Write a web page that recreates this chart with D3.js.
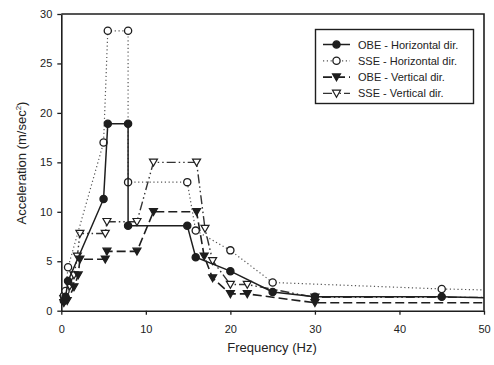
<!DOCTYPE html>
<html>
<head>
<meta charset="utf-8">
<script src="https://cdn.jsdelivr.net/npm/d3@7"></script>
<style>
  html, body { margin: 0; padding: 0; background: #fff; }
  svg { display: block; font-family: "Liberation Sans", Arial, sans-serif; }
</style>
</head>
<body>
<svg id="chart" width="494" height="365"></svg>
<script>
// Frequency (Hz) / acceleration (m/sec^2) pairs for each response spectrum
const obeHorizontal = [[0.3,1.0],[0.5,1.4],[0.8,3.0],[5,11.3],[5.5,18.9],[7.9,18.9],[7.9,8.6],[14.9,8.6],[15.9,5.4],[20,4.0],[25,1.9],[30,1.4],[45,1.4],[50,1.3]];
const sseHorizontal = [[0.3,1.5],[0.5,2.0],[0.8,4.4],[5,17.0],[5.5,28.3],[7.9,28.3],[7.9,13.0],[14.9,13.0],[15.9,8.1],[20,6.1],[25,2.85],[45,2.2],[50,2.1]];
const obeVertical = [[0.3,0.8],[0.7,1.0],[1.5,2.4],[2.0,3.6],[2.2,5.2],[5.2,5.2],[5.4,6.0],[8.95,6.0],[10.9,10.0],[16,10.0],[16.9,5.5],[17.9,3.3],[20,1.7],[22,1.7],[30,0.8],[50,0.8]];
const sseVertical = [[0.3,1.2],[1.0,2.5],[1.5,3.6],[1.9,5.5],[2.2,7.8],[5.2,7.8],[5.4,9.0],[8.95,9.0],[10.9,15.0],[16,15.0],[17,8.3],[17.9,5.05],[20,2.65],[22,2.65],[30,1.35],[50,1.35]];

const seriesNames = ["OBE - Horizontal dir.", "SSE - Horizontal dir.", "OBE - Vertical dir.", "SSE - Vertical dir."];
const xTicks = [0, 10, 20, 30, 40, 50];
const yTicks = [0, 5, 10, 15, 20, 25, 30];

const svg = d3.select("#chart");
const x = d3.scaleLinear().domain([0, 50]).range([61.3, 484]);
const y = d3.scaleLinear().domain([0, 30]).range([310.7, 14]);

const ink = "#1e1e1e";

// plot frame: top and right borders
svg.append("path")
  .attr("d", `M${x(0)},${y(30)}H${x(50)}V${y(0)}`)
  .attr("fill", "none").attr("stroke", ink).attr("stroke-width", 1.6);

const xAxis = svg.append("g")
  .attr("transform", `translate(0,${y(0)})`)
  .call(d3.axisBottom(x).tickValues(xTicks).tickSize(4).tickPadding(11).tickSizeOuter(0));
const yAxis = svg.append("g")
  .attr("transform", `translate(${x(0)},0)`)
  .call(d3.axisLeft(y).tickValues(yTicks).tickSize(4).tickPadding(5).tickSizeOuter(0));

[xAxis, yAxis].forEach(g => {
  g.select(".domain").attr("stroke", ink).attr("stroke-width", 1.6);
  g.selectAll(".tick line").attr("stroke", ink).attr("stroke-width", 1.3);
  g.selectAll(".tick text").attr("fill", "#222").style("font-size", "11px")
    .style("font-family", "'Liberation Sans', Arial, sans-serif");
});

// axis titles
svg.append("text")
  .attr("x", 272).attr("y", 352)
  .attr("text-anchor", "middle").attr("fill", "#222")
  .style("font-size", "13px")
  .text("Frequency (Hz)");

const yTitle = svg.append("text")
  .attr("transform", "translate(26,163) rotate(-90)")
  .attr("text-anchor", "middle").attr("fill", "#222")
  .style("font-size", "13px");
yTitle.append("tspan").text("Acceleration (m/sec");
yTitle.append("tspan").attr("dy", -5).style("font-size", "8px").text("2");
yTitle.append("tspan").attr("dy", 5).text(")");

const styles = [
  { data: obeHorizontal, dash: null, width: 1.5, stroke: ink, marker: "circle", fill: ink },
  { data: sseHorizontal, dash: "1.2,2.6", width: 1.2, stroke: "#555", marker: "circle", fill: "#fff" },
  { data: obeVertical, dash: "9,4", width: 1.6, stroke: ink, marker: "tri", fill: ink },
  { data: sseVertical, dash: "9,3,1.5,3,1.5,3", width: 1.4, stroke: "#333", marker: "tri", fill: "#fff" }
];

const line = d3.line().x(d => x(d[0])).y(d => y(d[1]));
const triPath = "M-4,-3.2L4,-3.2L0,3.8Z";

function drawMarker(g, s, cx, cy) {
  if (s.marker === "circle") {
    g.append("circle").attr("cx", cx).attr("cy", cy).attr("r", 3.6)
      .attr("fill", s.fill).attr("stroke", ink).attr("stroke-width", 1.3);
  } else {
    g.append("path").attr("d", triPath).attr("transform", `translate(${cx},${cy})`)
      .attr("fill", s.fill).attr("stroke", ink).attr("stroke-width", 1.2);
  }
}

// draw series, bottom layers first
[3, 2, 1, 0].forEach(i => {
  const s = styles[i];
  const g = svg.append("g");
  g.append("path").datum(s.data).attr("d", line)
    .attr("fill", "none").attr("stroke", s.stroke).attr("stroke-width", s.width)
    .attr("stroke-dasharray", s.dash);
  s.data.forEach(d => {
    if (d[0] === 50) return;
    drawMarker(g, s, x(d[0]), y(d[1]));
  });
});

// legend
const legend = svg.append("g");
legend.append("rect").attr("x", 315.5).attr("y", 29.5).attr("width", 158).attr("height", 74)
  .attr("fill", "#fff").attr("stroke", ink).attr("stroke-width", 1.4);
seriesNames.forEach((name, i) => {
  const s = styles[i];
  const ly = 44.5 + i * 16.3;
  legend.append("line").attr("x1", 323).attr("x2", 350).attr("y1", ly).attr("y2", ly)
    .attr("stroke", s.stroke).attr("stroke-width", s.width).attr("stroke-dasharray", s.dash);
  drawMarker(legend, s, 336.5, ly);
  legend.append("text").attr("x", 358).attr("y", ly + 4)
    .attr("fill", "#222").style("font-size", "11px").text(name);
});
</script>
</body>
</html>
